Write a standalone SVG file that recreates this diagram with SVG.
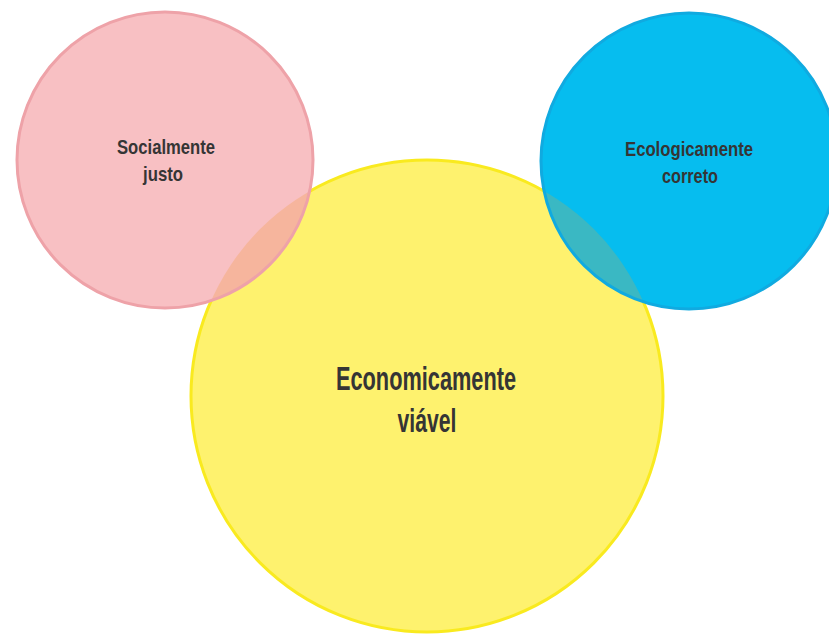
<svg xmlns="http://www.w3.org/2000/svg" width="829" height="634" viewBox="0 0 829 634">
  <defs>
    <clipPath id="clipYellow">
      <circle cx="427" cy="396" r="236"/>
    </clipPath>
    <style>
      .lbl { font-family: "Liberation Sans", Arial, sans-serif; font-weight: bold; fill: #353535; text-anchor: middle; }
      .small { font-size: 21px; }
      .big { font-size: 33px; }
      .yellow-fill { fill: #fef26e; }
      .yellow-stroke { fill: none; stroke: #f9ea1f; stroke-width: 3; }
      .pink-fill { fill: #f8c0c3; }
      .pink-over { fill: #f6b59d; }
      .pink-stroke { fill: none; stroke: #eea2a8; stroke-width: 3; }
      .blue-fill { fill: #06bdef; }
      .blue-over { fill: #3ab8c3; }
      .blue-stroke { fill: none; stroke: #10aae0; stroke-width: 3; }
    </style>
  </defs>
  <rect width="829" height="634" fill="#ffffff"/>

  <g id="economicamente-viavel">
    <circle class="yellow-fill" cx="427" cy="396" r="236"/>
    <circle class="yellow-stroke" cx="427" cy="396" r="236"/>
    <text class="lbl big" x="426" y="390" textLength="180" lengthAdjust="spacingAndGlyphs">Economicamente</text>
    <text class="lbl big" x="427" y="432" textLength="59" lengthAdjust="spacingAndGlyphs">viável</text>
  </g>

  <g id="socialmente-justo">
    <circle class="pink-fill" cx="165" cy="160" r="148"/>
    <circle class="pink-over" cx="165" cy="160" r="148" clip-path="url(#clipYellow)"/>
    <circle class="pink-stroke" cx="165" cy="160" r="148"/>
    <text class="lbl small" x="166" y="154" textLength="98" lengthAdjust="spacingAndGlyphs">Socialmente</text>
    <text class="lbl small" x="163" y="181" textLength="40" lengthAdjust="spacingAndGlyphs">justo</text>
  </g>

  <g id="ecologicamente-correto">
    <circle class="blue-fill" cx="689" cy="161" r="148"/>
    <circle class="blue-over" cx="689" cy="161" r="148" clip-path="url(#clipYellow)"/>
    <circle class="blue-stroke" cx="689" cy="161" r="148"/>
    <text class="lbl small" x="689" y="156" textLength="128" lengthAdjust="spacingAndGlyphs">Ecologicamente</text>
    <text class="lbl small" x="690" y="183" textLength="56" lengthAdjust="spacingAndGlyphs">correto</text>
  </g>
</svg>
